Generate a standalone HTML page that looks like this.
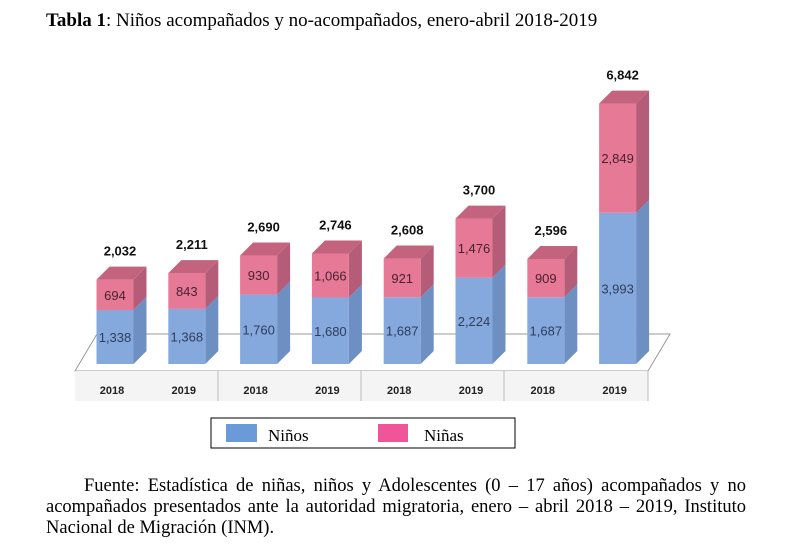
<!DOCTYPE html>
<html><head><meta charset="utf-8"><style>
body{margin:0;background:#fff;width:786px;height:550px;overflow:hidden;font-family:"Liberation Serif",serif}
.t{position:absolute;left:46px;top:10px;font-size:19px;color:#000;white-space:nowrap}
.f{position:absolute;left:46px;width:700px;font-size:18.5px;line-height:21px;white-space:nowrap}
.j{text-align:justify;text-align-last:justify}
</style></head><body>
<div class="t"><b>Tabla 1</b>: Niños acompañados y no-acompañados, enero-abril 2018-2019</div>
<svg id="c" width="786" height="470" style="position:absolute;left:0;top:0">
<polygon points="97,334 670,334 648,371 75,371" fill="#fff" stroke="#999" stroke-width="1"/>
<rect x="75" y="371" width="573" height="30" fill="#f4f4f4"/>
<g id="seps" stroke="#bbb"><line x1="218" y1="371" x2="218" y2="401"/><line x1="361" y1="371" x2="361" y2="401"/><line x1="504" y1="371" x2="504" y2="401"/><line x1="648" y1="371" x2="648" y2="401"/></g>
<g id="bars"></g>
<rect x="211" y="418" width="304" height="30" fill="#fff" stroke="#000"/>
<rect x="226" y="424" width="31" height="18" fill="#6a9bd8"/>
<text x="268" y="441" font-size="17" font-family="Liberation Serif">Niños</text>
<rect x="378" y="424" width="30" height="18" fill="#f0559a"/>
<text x="424" y="441" font-size="17" font-family="Liberation Serif">Niñas</text>
</svg>
<div>
<div class="f j" style="top:476px;left:84px;width:662px">Fuente: Estadística de niñas, niños y Adolescentes (0 – 17 años) acompañados y no</div>
<div class="f j" style="top:497px">acompañados presentados ante la autoridad migratoria, enero – abril 2018 – 2019, Instituto</div>
<div class="f" style="top:518px">Nacional de Migración (INM).</div>
</div>
<script>
const years=["2018","2019","2018","2019","2018","2019","2018","2019"];
const ninos=[1338,1368,1760,1680,1687,2224,1687,3993];
const ninas=[694,843,930,1066,921,1476,909,2849];
const totals=["2,032","2,211","2,690","2,746","2,608","3,700","2,596","6,842"];
const NS="http://www.w3.org/2000/svg";
const g=document.getElementById('bars');
const base=364,scale=0.0366,off=10,w=37,dx=13,dy=13;
const xc=i=>115+i*71.8;
const y=v=>base-off-v*scale;
function mk(t,a,p){const e=document.createElementNS(NS,t);for(const k in a)e.setAttribute(k,a[k]);(p||g).appendChild(e);return e;}
const fmt=v=>v.toLocaleString('en-US');
years.forEach((yr,i)=>{
  const x0=xc(i)-w/2,x1=x0+w;
  const yb=base,ym=y(ninos[i])+off*0.5,yt=y(ninos[i]+ninas[i]);
  const s1=mk('polygon',{points:`${x1},${yb} ${x1+dx},${yb-dy} ${x1+dx},${ym-dy} ${x1},${ym}`,fill:'#6d8fc2'});
  
  const f1=mk('rect',{x:x0,y:ym,width:w,height:yb-ym,fill:'#85a9dd'});
  
  const s2=mk('polygon',{points:`${x1},${ym} ${x1+dx},${ym-dy} ${x1+dx},${yt-dy} ${x1},${yt}`,fill:'#b55d78'});
  
  const f2=mk('rect',{x:x0,y:yt,width:w,height:ym-yt,fill:'#e67a96'});
  
  const tp=mk('polygon',{points:`${x0},${yt} ${x0+dx},${yt-dy} ${x1+dx},${yt-dy} ${x1},${yt}`,fill:'#c4637e'});
  
  const a=mk('text',{x:xc(i),y:(yb+ym)/2+5,'text-anchor':'middle','font-size':13,fill:'#2e3d5e','font-family':'Liberation Sans'});a.textContent=fmt(ninos[i]);
  
  const b=mk('text',{x:xc(i),y:(ym+yt)/2+5,'text-anchor':'middle','font-size':13,fill:'#4a2030','font-family':'Liberation Sans'});b.textContent=fmt(ninas[i]);
  
  const c=mk('text',{x:xc(i)+5,y:yt-dy-11,'text-anchor':'middle','font-size':13,'font-weight':'bold',fill:'#111','font-family':'Liberation Sans'});c.textContent=totals[i];
  
  const l=mk('text',{x:xc(i)-3,y:394,'text-anchor':'middle','font-size':11,'font-weight':'bold',fill:'#222','font-family':'Liberation Sans'});l.textContent=yr;
  
});
</script>
</body></html>
